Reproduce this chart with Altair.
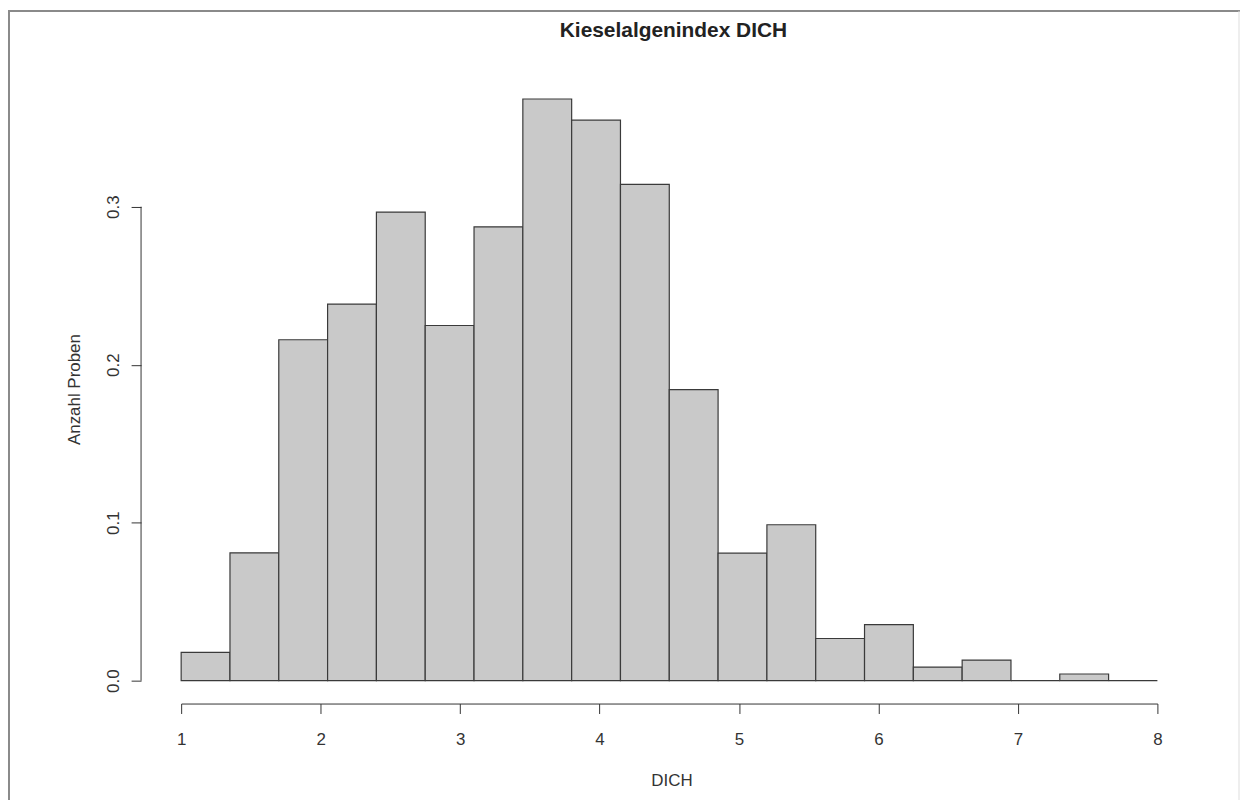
import altair as alt
import pandas as pd

# Histogram of DICH (density scale), breaks every 0.35
breaks = [1.00, 1.35, 1.70, 2.05, 2.40, 2.75, 3.10, 3.45, 3.80, 4.15, 4.50,
          4.85, 5.20, 5.55, 5.90, 6.25, 6.60, 6.95, 7.30, 7.65, 8.00]
density = [0.0179, 0.0809, 0.2158, 0.2384, 0.2966, 0.2248, 0.2873, 0.3682,
           0.3548, 0.3142, 0.1842, 0.0807, 0.0987, 0.0267, 0.0355, 0.0086,
           0.0130, 0.0, 0.0042, 0.0]
x_ticks = [1, 2, 3, 4, 5, 6, 7, 8]
y_ticks = [0.0, 0.1, 0.2, 0.3]
title_text = "Kieselalgenindex DICH"

bars = pd.DataFrame({"lo": breaks[:-1], "hi": breaks[1:],
                     "density": density, "base": [0.0] * len(density)})
yaxis_line = pd.DataFrame({"y0": [min(y_ticks)], "y1": [max(y_ticks)]})
title_df = pd.DataFrame({"t": [title_text]})

W, H = 981, 608
FONT = "Liberation Sans"
INK = "#333333"

xscale = alt.Scale(domain=[breaks[0], breaks[-1]], nice=False, zero=False)
yscale = alt.Scale(domain=[0, 0.383], nice=False)

yaxis = alt.Axis(
    values=y_ticks, format=".1f", title="Anzahl Proben", offset=40.3,
    tickSize=10, labelPadding=12.4, labelAngle=270, labelAlign="center",
    labelBaseline="alphabetic", labelFontSize=17, labelFont=FONT,
    labelColor=INK, labelFlush=False, labelOverlap=False,
    domain=False, tickColor=INK, grid=False,
    titleFont=FONT, titleFontSize=17, titleFontWeight="normal", titleColor=INK,
    titleX=-61.7, titleY=315, titleAngle=270, titleBaseline="alphabetic",
    titleAlign="center")

hist = alt.Chart(bars).mark_rect(
    fill="#c9c9c9", stroke="#3a3a3a", strokeWidth=1.2
).encode(
    x=alt.X("lo:Q", scale=xscale, axis=alt.Axis(
        values=x_ticks, format="d", title="DICH", offset=23, tickSize=10,
        labelPadding=17.7, labelFontSize=17, labelFont=FONT, labelColor=INK,
        labelBaseline="top", labelFlush=False, labelOverlap=False,
        domainColor=INK, tickColor=INK, grid=False,
        titleFont=FONT, titleFontSize=17, titleFontWeight="normal", titleColor=INK,
        titleX=492.7, titleY=82.8, titleBaseline="alphabetic", titleAlign="center")),
    x2="hi:Q",
    y=alt.Y("density:Q", scale=yscale, axis=yaxis),
    y2="base:Q",
)

yline = alt.Chart(yaxis_line).mark_rule(color=INK, strokeWidth=1).encode(
    x=alt.value(-40.3),
    y=alt.Y("y0:Q", scale=yscale, axis=yaxis),
    y2="y1:Q",
)

title = alt.Chart(title_df).mark_text(
    font=FONT, fontSize=21, fontWeight="bold", color="#222222",
    align="center", baseline="alphabetic"
).encode(x=alt.value(494.7), y=alt.value(-38.3), text="t:N")

frame_left = alt.Chart(yaxis_line).mark_rule(color="#8a8a8a", strokeWidth=2).encode(
    x=alt.value(-173), y=alt.value(-65), y2=alt.value(730))
frame_top = alt.Chart(yaxis_line).mark_rule(color="#8a8a8a", strokeWidth=2).encode(
    x=alt.value(-174), x2=alt.value(1064), y=alt.value(-65))
frame_right = alt.Chart(yaxis_line).mark_rule(color="#dddddd", strokeWidth=1).encode(
    x=alt.value(1063), y=alt.value(-65), y2=alt.value(730))

chart = alt.layer(frame_left, frame_top, frame_right, hist, yline, title).properties(
    width=W, height=H,
    background="white",
    autosize=alt.AutoSizeParams(type="none"),
    padding={"left": 174, "top": 66, "right": 83, "bottom": 118},
).configure_view(stroke="transparent", strokeWidth=0)

chart.save("out.html", embed_options={"renderer": "svg", "actions": False})
